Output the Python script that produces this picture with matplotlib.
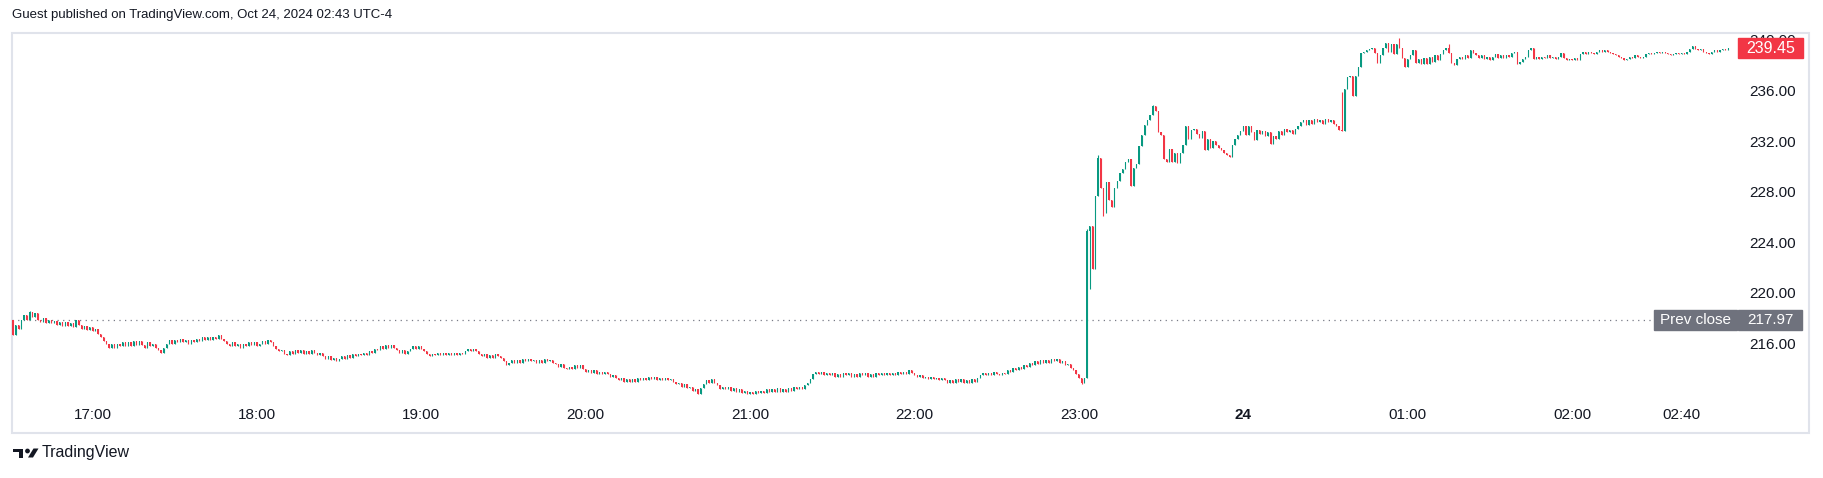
import numpy as np
import matplotlib
matplotlib.use("Agg")
import matplotlib.pyplot as plt
from matplotlib.patches import Rectangle, Polygon, Circle
from matplotlib.transforms import blended_transform_factory as blend

# =====================
# data (1-min bars, index based like TradingView)
# =====================
first_open = 218.0

close_a = [216.8, 217.6, 217.3, 218.0, 218.4, 218.0, 218.6, 218.2, 218.5, 218.0,
           217.8, 218.1, 217.7, 218.0, 217.7, 217.9, 217.6, 217.8, 217.5, 217.8,
           217.5, 217.7, 217.4, 218.0, 217.6, 217.3, 217.5, 217.2, 217.4, 217.1,
           217.3, 216.9, 216.6, 216.3, 216.1, 215.8, 216.1, 215.8, 216.1, 215.9,
           216.2, 215.9, 216.2, 215.9, 216.3, 216.0, 216.3, 216.0, 215.8, 216.2,
           215.9, 216.1, 215.8, 215.6, 215.4, 215.8, 216.1, 216.4, 216.1, 216.4,
           216.2, 216.5, 216.2, 216.4, 216.1, 216.4, 216.2, 216.5, 216.3, 216.6,
           216.4, 216.6, 216.4, 216.6, 216.5, 216.8, 216.5, 216.3, 216.1, 215.9,
           216.2, 215.9, 216.1, 215.8, 216.1, 215.9, 216.2, 216.0, 216.2, 215.9,
           216.1, 216.3, 216.1, 216.4, 216.2, 215.9, 215.7, 215.5, 215.6, 215.3]

close_b = [215.2, 215.5, 215.3, 215.6, 215.4, 215.6, 215.3, 215.5, 215.3, 215.6,
           215.4, 215.2, 215.4, 215.1, 214.9, 215.1, 214.8, 215.0, 214.7, 214.9,
           215.1, 214.9, 215.2, 215.0, 215.3, 215.1, 215.3, 215.2, 215.4, 215.2,
           215.5, 215.4, 215.7, 215.6, 215.9, 215.7, 216.0, 215.8, 216.0, 215.8,
           215.6, 215.4, 215.6, 215.3, 215.5, 215.7, 215.9, 215.7, 215.9, 215.7,
           215.5, 215.3, 215.1, 215.3, 215.2, 215.4, 215.2, 215.4, 215.2, 215.4,
           215.2, 215.4, 215.2, 215.4, 215.3, 215.5, 215.7, 215.5, 215.7, 215.5,
           215.3, 215.1, 215.3, 215.0, 215.2, 215.0, 215.3, 215.1, 215.0, 214.7,
           214.4, 214.6, 214.8, 214.6, 214.8, 214.6, 214.9, 214.7, 214.9, 214.7,
           214.8, 214.6, 214.8, 214.6, 214.9, 214.7, 214.8, 214.6, 214.5, 214.3]

close_c = [214.5, 214.2, 214.1, 214.3, 214.1, 214.4, 214.2, 214.4, 214.1, 213.9,
           214.0, 213.8, 214.0, 213.7, 213.9, 213.7, 213.9, 213.7, 213.5, 213.6,
           213.4, 213.2, 213.4, 213.1, 213.3, 213.1, 213.3, 213.1, 213.4, 213.2,
           213.4, 213.2, 213.5, 213.3, 213.5, 213.2, 213.4, 213.2, 213.4, 213.2,
           213.3, 213.1, 212.9, 213.0, 212.7, 212.9, 212.6, 212.7, 212.4, 212.5,
           212.1, 212.6, 212.9, 213.2, 213.0, 213.3, 213.0, 212.8, 212.5, 212.7,
           212.5, 212.7, 212.4, 212.6, 212.3, 212.5, 212.2, 212.4, 212.1, 212.3,
           212.1, 212.4, 212.2, 212.4, 212.2, 212.5, 212.3, 212.5, 212.3, 212.6,
           212.3, 212.5, 212.3, 212.6, 212.4, 212.7, 212.5, 212.7, 212.5, 212.8,
           213.0, 213.3, 213.7, 213.9, 213.7, 213.9, 213.6, 213.8, 213.6, 213.8]

close_d = [213.5, 213.7, 213.5, 213.8, 213.6, 213.8, 213.5, 213.7, 213.5, 213.8,
           213.6, 213.8, 213.5, 213.7, 213.5, 213.8, 213.6, 213.8, 213.6, 213.8,
           213.6, 213.8, 213.6, 213.9, 213.7, 213.9, 213.7, 214.0, 213.8, 213.6,
           213.5, 213.6, 213.4, 213.5, 213.3, 213.5, 213.3, 213.4, 213.2, 213.4,
           213.2, 213.0, 213.2, 213.0, 213.3, 213.1, 213.3, 213.0, 213.2, 213.0,
           213.3, 213.1, 213.4, 213.6, 213.8, 213.6, 213.8, 213.6, 213.9, 213.7,
           213.6, 213.8, 213.7, 214.0, 213.9, 214.2, 214.0, 214.3, 214.1, 214.4,
           214.3, 214.6, 214.4, 214.7, 214.5, 214.8, 214.6, 214.8, 214.6, 214.9,
           214.7, 214.9, 214.6, 214.7, 214.4, 214.5, 214.2, 214.0, 213.7, 213.4,
           213.0, 213.4]

close_e = [225.0, 225.4, 222.0, 227.8, 230.8, 228.4, 226.4, 228.9, 227.5, 226.9,
           228.4, 229.0, 229.6, 229.9, 230.5, 230.7, 228.6, 230.0, 230.3, 231.7,
           232.6, 233.4, 233.8, 234.2, 234.9, 234.5, 232.8, 232.6, 230.7, 230.5,
           231.5, 230.5, 231.2, 230.4, 231.2, 231.8, 233.3, 232.3, 233.0, 233.1,
           232.7, 232.4, 232.9, 231.4, 232.3, 231.6, 232.1, 231.8, 231.6, 231.4,
           231.2, 231.0, 230.9, 231.8, 232.3, 232.6, 232.9, 233.3, 232.6, 233.3,
           232.8]

close_f = [232.2, 233.0, 232.7, 232.9, 232.5, 232.8, 231.9, 232.5, 232.3, 232.9,
           232.6, 233.1, 232.8, 233.0, 232.7, 233.1, 233.3, 233.6, 233.8, 233.4,
           233.8, 233.5, 233.9, 233.6, 233.8, 233.5, 233.9, 233.6, 233.8, 233.5,
           233.3, 233.0, 232.9, 236.2, 237.2, 237.3, 235.7, 237.3, 238.0, 239.1,
           239.2, 239.3, 239.4, 239.5, 239.1, 238.3, 238.9, 239.5, 239.9, 239.2,
           239.8, 239.0, 239.8, 239.5, 238.7, 238.0, 238.6, 238.9, 239.3, 238.3,
           238.6, 238.2, 238.7, 238.2, 238.8, 238.4, 238.9, 238.5, 239.0, 239.3,
           239.5, 239.1, 238.3, 238.1, 238.6, 238.8, 238.6, 238.9, 238.7, 239.3,
           239.1, 238.9, 238.7, 238.9, 238.6, 238.8, 238.5, 238.8, 239.0]

close_g = [238.7, 238.9, 238.7, 238.9, 238.8, 239.1, 239.2, 238.2, 238.4, 238.6,
           238.8, 239.3, 239.5, 238.6, 238.8, 238.6, 238.8, 238.7, 238.9, 238.7,
           238.8, 238.6, 238.8, 239.1, 238.7, 238.5, 238.6, 238.5, 238.7, 238.5,
           239.0, 239.2, 239.0, 239.2, 239.1, 239.0, 239.2, 239.3, 239.2, 239.3,
           239.2, 239.1, 239.0, 238.9, 238.8, 238.7, 238.5, 238.6, 238.8, 238.7,
           238.9, 238.8, 238.7, 238.8, 239.0, 239.1, 239.0, 239.1, 239.2, 239.1,
           239.2, 239.1, 239.0, 238.9, 239.0, 239.1, 239.0, 239.1, 239.0, 239.2,
           239.4, 239.6, 239.4, 239.3, 239.4, 239.2, 239.1, 239.0, 239.2, 239.3,
           239.2, 239.3, 239.4, 239.3, 239.45]

# wicks sticking out of the body (bar index -> price)
wick_hi = {6: 218.7, 392: 225.2, 396: 231.0, 416: 235.0, 485: 236.0, 506: 240.3, 524: 239.8}
wick_lo = {390: 212.9, 393: 220.4, 398: 226.2}

prev_close = 217.97
last_price = 239.45
price_ticks = [216, 220, 224, 228, 232, 236, 240]
time_labels = ["17:00", "18:00", "19:00", "20:00", "21:00", "22:00", "23:00", "24", "01:00", "02:00", "02:40"]
time_bars = [29, 89, 149, 209, 269, 329, 389, 449, 509, 569, 609]

# =====================
# style
# =====================
GREEN = "#089981"
RED = "#f23645"
TEXT = "#131722"
GREY_LABEL = "#6f727d"
plt.rcParams["font.family"] = ["Liberation Sans", "DejaVu Sans"]

W, H = 1823, 478
fig = plt.figure(figsize=(W / 100, H / 100), dpi=100)
fig.patch.set_facecolor("white")

# overlay in pixel coords for frame / header / footer
ov = fig.add_axes([0, 0, 1, 1])
ov.set_xlim(0, W)
ov.set_ylim(H, 0)
ov.axis("off")

# pane: x 12..1735, y 33..433 px; 216 at y=345, 12.65 px per unit
ax = fig.add_axes([12 / W, (H - 433) / H, 1723 / W, 400 / H])
ax.set_xlim(-0.4, 628.5)
ax.set_ylim(216 - 88 / 12.65, 216 + 312 / 12.65)
ax.axis("off")
ax.patch.set_alpha(0)

# =====================
# candles
# =====================
closes = np.array(close_a + close_b + close_c + close_d + close_e + close_f + close_g)
opens = np.concatenate([[first_open], closes[:-1]])
highs = np.maximum(opens, closes)
lows = np.minimum(opens, closes)
for i, v in wick_hi.items():
    highs[i] = v
for i, v in wick_lo.items():
    lows[i] = v
xs = np.arange(len(closes))
colors = np.where(closes >= opens, GREEN, RED)

ax.vlines(xs, lows, highs, colors=colors, linewidth=0.8, zorder=3)
body_lo = np.minimum(opens, closes)
body_h = np.maximum(np.abs(closes - opens), 0.06)
ax.bar(xs, body_h, bottom=body_lo, width=0.45, color=colors, linewidth=0, zorder=3)

# prev close dotted line
def fx(px):
    return (px - 12) / 1723

ax.axhline(prev_close, xmin=0, xmax=fx(1654), color="#787b86", linewidth=0.9,
           linestyle=(0, (1, 3.5)), zorder=2)

# =====================
# price scale
# =====================
tp = blend(ax.transAxes, ax.transData)
for p in price_ticks:
    ax.text(fx(1796), p, f"{p:.2f}", transform=tp, ha="right", va="center",
            fontsize=11, color=TEXT, clip_on=False, zorder=4)

box_h = 1.6
ax.add_patch(Rectangle((fx(1738), last_price - box_h / 2), fx(1803) - fx(1738), box_h,
                       transform=tp, color=RED, clip_on=False, zorder=6))
ax.text(fx(1770.5), last_price, f"{last_price:.2f}", transform=tp, ha="center", va="center",
        fontsize=11.5, color="white", clip_on=False, zorder=7)

ax.add_patch(Rectangle((fx(1654), prev_close - box_h / 2), fx(1737) - fx(1654), box_h,
                       transform=tp, color=GREY_LABEL, clip_on=False, zorder=6))
ax.add_patch(Rectangle((fx(1738), prev_close - box_h / 2), fx(1802) - fx(1738), box_h,
                       transform=tp, color=GREY_LABEL, clip_on=False, zorder=6))
ax.text(fx(1695.5), prev_close, "Prev close", transform=tp, ha="center", va="center",
        fontsize=11, color="white", clip_on=False, zorder=7)
ax.text(fx(1770), prev_close, f"{prev_close:.2f}", transform=tp, ha="center", va="center",
        fontsize=11, color="white", clip_on=False, zorder=7)

# =====================
# time scale
# =====================
tt = blend(ax.transData, ax.transAxes)
for b, lab in zip(time_bars, time_labels):
    ax.text(b, 0.045, lab, transform=tt, ha="center", va="center", fontsize=11,
            color=TEXT, fontweight="bold" if lab == "24" else "normal")

# =====================
# frame, header, footer
# =====================
ov.add_patch(Rectangle((12, 33), 1797, 400, fill=False, edgecolor="#e0e3eb", linewidth=1.5))
ov.text(12, 15, "Guest published on TradingView.com, Oct 24, 2024 02:43 UTC-4",
        fontsize=9.5, color=TEXT, ha="left", va="center")

# TradingView logo
ov.add_patch(Rectangle((13, 448.5), 10, 3.5, color=TEXT, linewidth=0))
ov.add_patch(Rectangle((19, 448.5), 4, 9, color=TEXT, linewidth=0))
ov.add_patch(Circle((27.5, 451), 2.4, color=TEXT, linewidth=0))
ov.add_patch(Polygon([[28, 457.5], [33, 457.5], [38.5, 448.5], [33.5, 448.5]], closed=True,
                     color=TEXT, linewidth=0))
ov.text(42, 453, "TradingView", fontsize=11.5, color=TEXT, ha="left", va="center")

fig.savefig("out.png", dpi=100, facecolor="white")
